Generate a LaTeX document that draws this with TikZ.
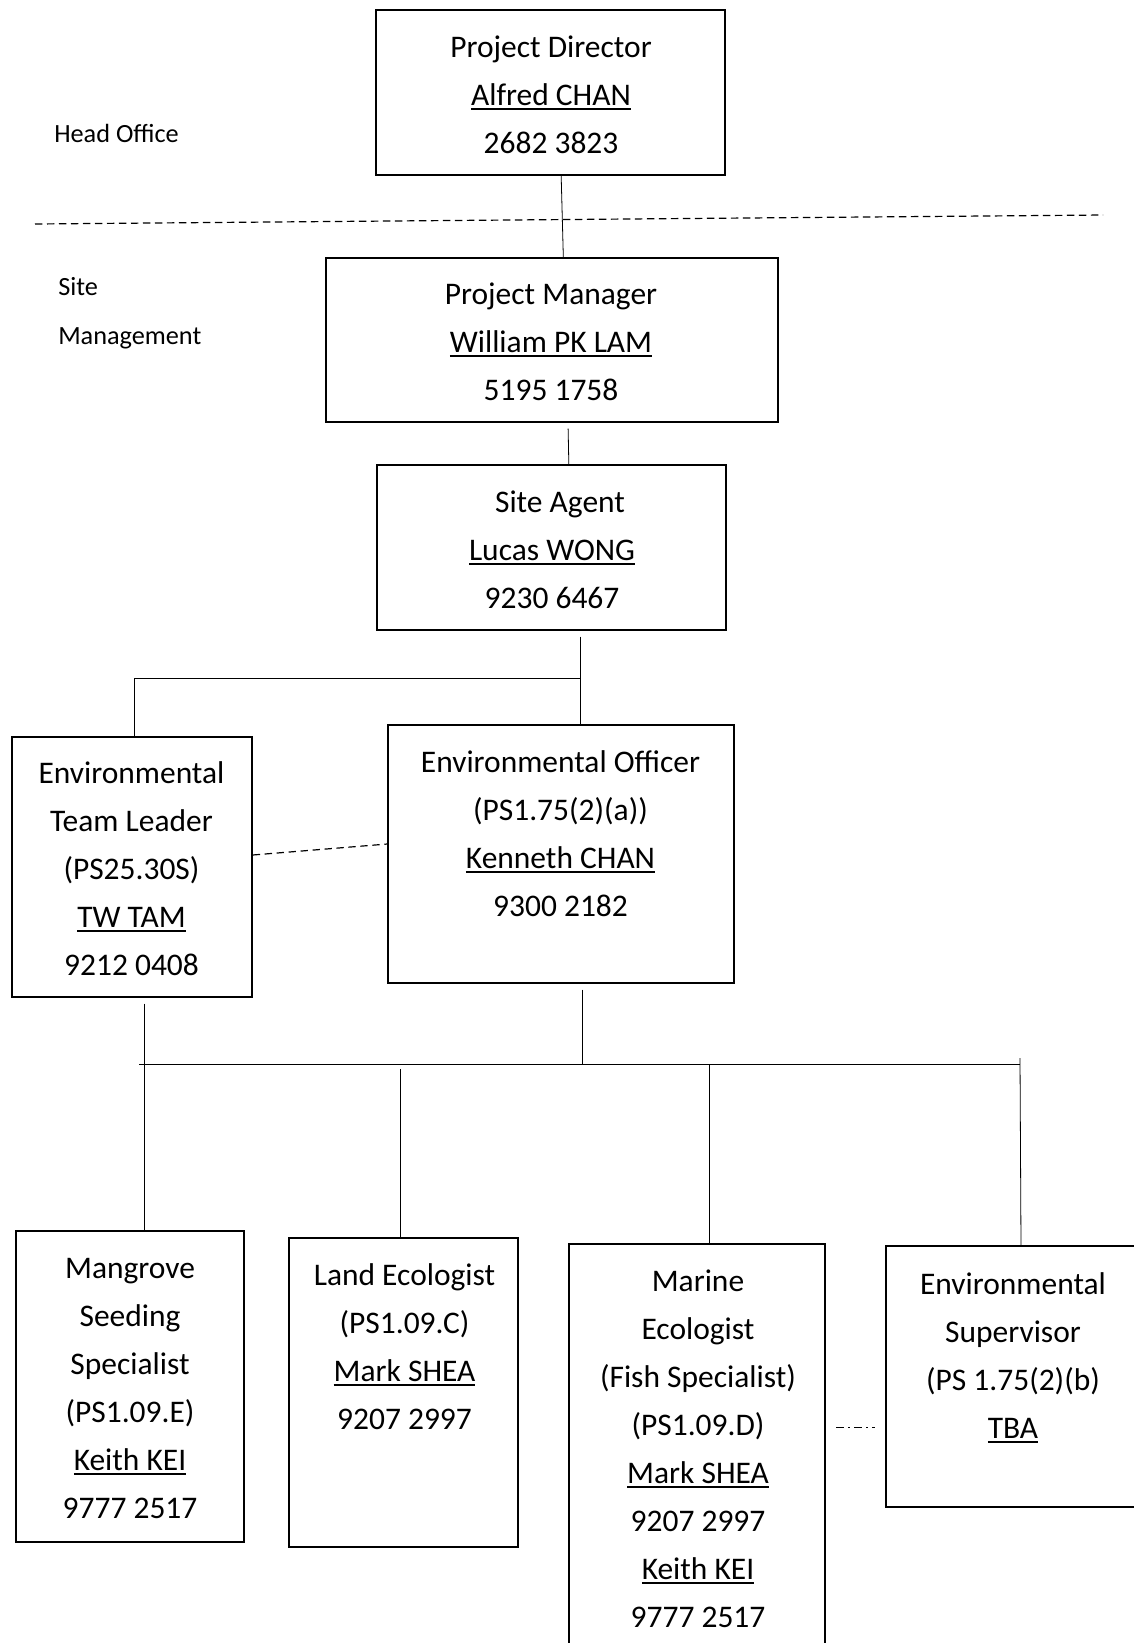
\documentclass[tikz,border=0pt]{standalone}
\usepackage{fontspec}
\setmainfont{Carlito}
\newcommand{\uname}[1]{\setbox0\hbox{#1}\rlap{\rule[-4pt]{\wd0}{1.4pt}}\box0}
\begin{document}
\begin{tikzpicture}[x=0.75pt,y=-0.75pt,
  box/.style={draw,line width=1.1pt,inner sep=0pt},
  txt/.style={align=center,anchor=base,inner sep=0pt,font=\fontsize{23.6}{36}\selectfont},
  side/.style={align=left,anchor=base west,inner sep=0pt,font=\fontsize{19.7}{36.75}\selectfont},
  link/.style={line width=0.6pt},
  sep/.style={line width=0.9pt,dash pattern=on 5.5pt off 3.5pt},
  dotdash/.style={line width=0.9pt,dash pattern=on 6pt off 3pt on 1.5pt off 3pt}]
  \clip (0,0) rectangle (1134,1643);

  \node[box,minimum width=261.75pt,minimum height=123.75pt] (dir)    at (550.5,92.5)  {};
  \node[box,minimum width=339pt,minimum height=123pt]       (mgr)    at (552,340)     {};
  \node[box,minimum width=261.75pt,minimum height=123.75pt] (agent)  at (551.5,547.5) {};
  \node[box,minimum width=180pt,minimum height=195pt]       (etl)    at (132,867)     {};
  \node[box,minimum width=259.5pt,minimum height=193.5pt]   (eo)     at (561,854)     {};
  \node[box,minimum width=171pt,minimum height=233.25pt]    (mang)   at (130,1386.5)  {};
  \node[box,minimum width=171.75pt,minimum height=231.75pt] (land)   at (403.5,1392.5){};
  \node[box,minimum width=192pt,minimum height=327pt]       (marine) at (697,1462)    {};
  \node[box,minimum width=202.5pt,minimum height=195.75pt]  (sup)    at (1021,1376.5) {};

  \node[txt] (dirt)    at (551,153)    {Project Director\\\uname{Alfred CHAN}\\2682 3823};
  \node[txt] (mgrt)    at (551,400)    {Project Manager\\\uname{William PK LAM}\\5195 1758};
  \node[txt] (agentt)  at (552,608)    {\hspace*{12pt}Site Agent\\\uname{Lucas WONG}\\9230 6467};
  \node[txt] (etlt)    at (131.5,975)  {Environmental\\Team Leader\\(PS25.30S)\\\uname{TW TAM}\\9212 0408};
  \node[txt] (eot)     at (560.5,916)  {Environmental Officer\\(PS1.75(2)(a))\\\uname{Kenneth CHAN}\\9300 2182};
  \node[txt] (mangt)   at (130,1518)   {Mangrove\\Seeding\\Specialist\\(PS1.09.E)\\\uname{Keith KEI}\\9777 2517};
  \node[txt] (landt)   at (404.5,1429) {Land Ecologist\\(PS1.09.C)\\\uname{Mark SHEA}\\9207 2997};
  \node[txt] (marinet) at (698,1627)   {Marine\\Ecologist\\(Fish Specialist)\\(PS1.09.D)\\\uname{Mark SHEA}\\9207 2997\\\uname{Keith KEI}\\9777 2517};
  \node[txt] (supt)    at (1013,1438)  {Environmental\\Supervisor\\(PS 1.75(2)(b)\\\uname{TBA}};

  \node[side] (head) at (54,142) {Head Office};
  \node[side] (site) at (58,344) {Site\\Management};

  \coordinate (hl) at (35,224);
  \coordinate (hr) at (1103,215);
  \draw[sep] (hl) -- (hr);

  \draw[link] ([xshift=8pt]dir.south) -- ([xshift=8.5pt]mgr.north);
  \draw[link,shorten <=4.5pt] ([xshift=12pt]mgr.south) -- ([xshift=13pt]agent.north);

  \coordinate (ja) at (580,678);
  \draw[link,shorten <=4.5pt] (agent.south -| ja) -- (eo.north -| ja);
  \draw[link] (ja) -| ([xshift=2pt]etl.north);
  \draw[sep] ([yshift=9pt]etl.east) -- ([yshift=7.5pt]eo.west);

  \coordinate (jb) at (582,1064);
  \coordinate (bl) at (139,1064);
  \coordinate (br) at (1020,1064);
  \draw[link,shorten <=4.5pt] (eo.south -| jb) -- (jb);
  \draw[link] (bl) -- (br);

  \coordinate (ea) at ([xshift=9pt]etl.south);
  \draw[link,shorten <=4.5pt] (ea) -- (ea |- mang.north);
  \coordinate (la) at ([xshift=-2.6pt]land.north);
  \draw[link,shorten <=3.75pt] (la |- bl) -- (la);
  \coordinate (ma) at ([xshift=9.5pt]marine.north);
  \draw[link] (ma |- bl) -- (ma);
  \draw[link] ([yshift=4.5pt]br) -- (sup.north);

  \coordinate (dd) at ([yshift=-38pt]sup.west);
  \draw[dotdash,shorten <=8pt,shorten >=7.5pt] (dd -| marine.east) -- (dd);
\end{tikzpicture}
\end{document}
